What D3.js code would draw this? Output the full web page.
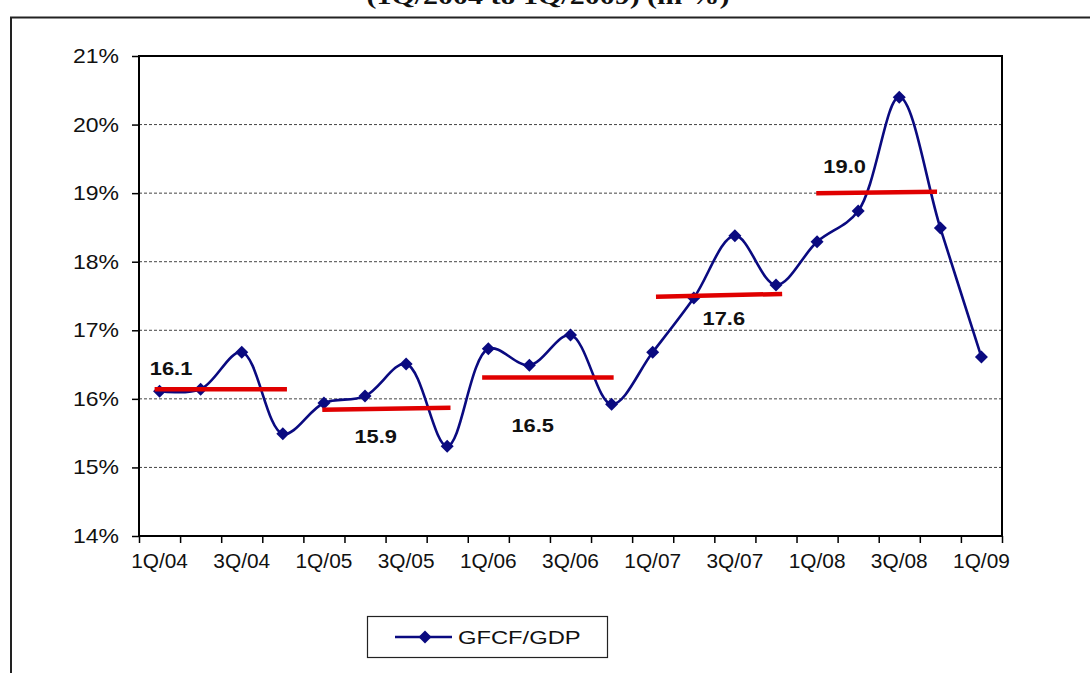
<!DOCTYPE html>
<html>
<head>
<meta charset="utf-8">
<script src="https://cdn.jsdelivr.net/npm/d3@7/dist/d3.min.js"></script>
<style>
  html, body { margin: 0; padding: 0; background: #fff; }
  svg { display: block; }
  text { font-family: "Liberation Sans", Arial, sans-serif; fill: #111; }
</style>
</head>
<body>
<svg id="chart" width="1090" height="673"></svg>
<script>
// ---- data ----
const categories = ["1Q/04","2Q/04","3Q/04","4Q/04","1Q/05","2Q/05","3Q/05","4Q/05",
  "1Q/06","2Q/06","3Q/06","4Q/06","1Q/07","2Q/07","3Q/07","4Q/07",
  "1Q/08","2Q/08","3Q/08","4Q/08","1Q/09"];
const gfcfGdp = [16.11,16.14,16.68,15.49,15.94,16.04,16.51,15.31,16.73,16.49,16.93,15.92,
  16.68,17.47,18.38,17.66,18.29,18.74,20.40,18.49,16.61];
const yTicks = [14,15,16,17,18,19,20,21];
const seriesName = "GFCF/GDP";
// yearly average bars (red): value at start / end, span in quarter index units
const avgLabels = ["16.1","15.9","16.5","17.6","19.0"];
const avgStartValue = [16.14,15.84,16.31,17.49,19.00];
const avgEndValue = [16.14,15.87,16.31,17.53,19.02];
const avgStartIdx = [-0.12,3.96,7.85,12.08,15.98];
const avgEndIdx = [3.1,7.08,11.05,15.15,18.92];
// label anchor (quarter index, value)
const avgLabelIdx = [0.28,5.26,9.08,13.73,16.67];
const avgLabelValue = [16.35,15.36,15.52,17.08,19.29];
const titleText = "(1Q/2004 to 1Q/2009) (in %)";

// ---- layout ----
const svg = d3.select("#chart");
const plot = {left: 139, right: 1002, top: 56, bottom: 536};
const SX = 1.15; // horizontal text stretch seen in the reference

const x = d3.scaleBand().domain(categories).range([plot.left, plot.right]).padding(0);
const xi = d3.scaleLinear().domain([0, categories.length - 1])
  .range([x(categories[0]) + x.bandwidth()/2, x(categories[categories.length-1]) + x.bandwidth()/2]);
const y = d3.scaleLinear().domain([14, 21]).range([plot.bottom, plot.top]);

function stretchedText(g, tx, ty, txt, anchor, size, weight, sx, family) {
  return g.append("text")
    .attr("transform", `translate(${tx},${ty}) scale(${sx},1)`)
    .attr("text-anchor", anchor)
    .style("font-size", size + "px")
    .style("font-weight", weight || "normal")
    .style("font-family", family || null)
    .text(txt);
}

// outer frame
svg.append("path").attr("d", "M11,673 V17.5 H1095")
  .attr("fill", "none").attr("stroke", "#222").attr("stroke-width", 2);

// clipped title
stretchedText(svg, 548, 4, titleText, "middle", 24, "bold", 1.25, "'Liberation Serif', 'Times New Roman', serif");

// gridlines
svg.append("g").selectAll("line").data(yTicks.filter(t => t > 14 && t < 21)).join("line")
  .attr("x1", plot.left).attr("x2", plot.right)
  .attr("y1", d => y(d)).attr("y2", d => y(d))
  .attr("stroke", "#444").attr("stroke-width", 1).attr("stroke-dasharray", "3,2");

// y axis
const yAxis = svg.append("g").attr("transform", `translate(${plot.left},0)`)
  .call(d3.axisLeft(y).tickValues(yTicks).tickSize(7).tickFormat(""));
yAxis.select(".domain").remove();
yAxis.selectAll(".tick line").attr("stroke", "#000").attr("stroke-width", 1.5);
yTicks.forEach(t => stretchedText(svg, 119, y(t) + 7, t + "%", "end", 20, "normal", SX));

// x axis
const tickPos = categories.map(c => x(c)).concat([plot.right]);
const xAxisG = svg.append("g").attr("transform", `translate(0,${plot.bottom})`)
  .call(d3.axisBottom(d3.scaleLinear().domain([plot.left, plot.right]).range([plot.left, plot.right]))
    .tickValues(tickPos).tickSize(7).tickFormat(""));
xAxisG.select(".domain").remove();
xAxisG.selectAll(".tick line").attr("stroke", "#000").attr("stroke-width", 1.5);
categories.forEach((c, i) => {
  if (i % 2 === 0) stretchedText(svg, x(c) + x.bandwidth()/2, 568, c, "middle", 19.5, "normal", 1.07);
});

// plot frame
svg.append("rect").attr("x", plot.left).attr("y", plot.top)
  .attr("width", plot.right - plot.left).attr("height", plot.bottom - plot.top)
  .attr("fill", "none").attr("stroke", "#000").attr("stroke-width", 2);

// series line
const navy = "#0a0a80";
const line = d3.line().x((d, i) => xi(i)).y(d => y(d)).curve(d3.curveCatmullRom.alpha(0.5));
svg.append("path").datum(gfcfGdp).attr("d", line)
  .attr("fill", "none").attr("stroke", navy).attr("stroke-width", 2.6);

// markers
const diamond = (cx, cy, r) => `M${cx},${cy - r}L${cx + r},${cy}L${cx},${cy + r}L${cx - r},${cy}Z`;
svg.append("g").selectAll("path").data(gfcfGdp).join("path")
  .attr("d", (d, i) => diamond(xi(i), y(d), 6.5))
  .attr("fill", navy);

// average bars
const avgData = avgLabels.map((l, k) => ({l, s: avgStartValue[k], e: avgEndValue[k], a: avgStartIdx[k], b: avgEndIdx[k],
  li: avgLabelIdx[k], lv: avgLabelValue[k]}));
svg.append("g").selectAll("line").data(avgData).join("line")
  .attr("x1", d => xi(d.a)).attr("x2", d => xi(d.b))
  .attr("y1", d => y(d.s)).attr("y2", d => y(d.e))
  .attr("stroke", "#e00000").attr("stroke-width", 4.5);
avgData.forEach(d => stretchedText(svg, xi(d.li), y(d.lv), d.l, "middle", 19, "bold", 1.15));

// legend
svg.append("rect").attr("x", 367.5).attr("y", 616.5).attr("width", 240).attr("height", 41)
  .attr("fill", "#fff").attr("stroke", "#222").attr("stroke-width", 1.2);
svg.append("line").attr("x1", 395).attr("x2", 452).attr("y1", 637).attr("y2", 637)
  .attr("stroke", navy).attr("stroke-width", 2.6);
svg.append("path").attr("d", diamond(425, 637, 6.5)).attr("fill", navy);
stretchedText(svg, 458, 644, seriesName, "start", 19, "normal", 1.25);
</script>
</body>
</html>
